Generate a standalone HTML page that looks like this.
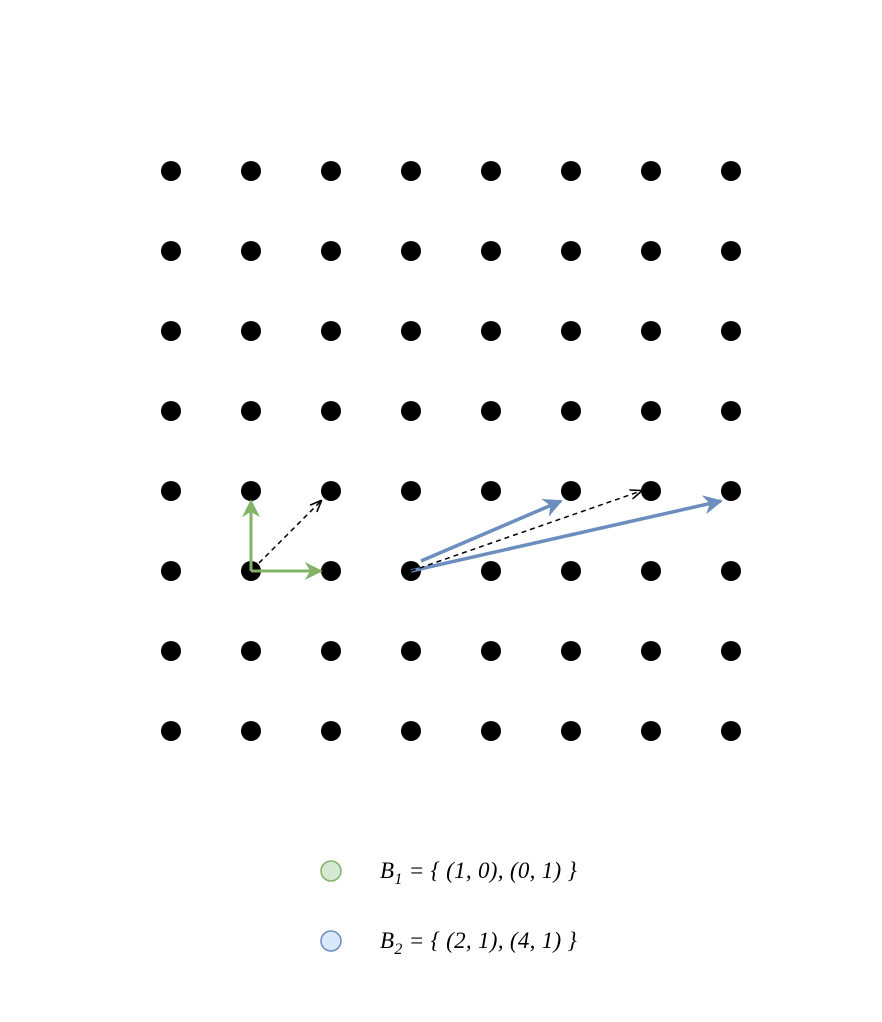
<!DOCTYPE html>
<html><head><meta charset="utf-8"><style>
body{margin:0;background:#fff}
svg{display:block}
text{font-family:"Liberation Serif",serif;font-style:italic;font-size:23px;letter-spacing:0.3px}
</style></head><body>
<svg id="c" width="882" height="1022">
<defs>
<marker id="ag" viewBox="0 0 10 10" refX="9" refY="5" markerWidth="6" markerHeight="6" orient="auto"><path d="M0,0 L10,5 L0,10 L3,5 z" fill="#82b366"/></marker>
<marker id="ab" viewBox="0 0 10 10" refX="9" refY="5" markerWidth="5.5" markerHeight="5.5" orient="auto"><path d="M0,0 L10,5 L0,10 L3,5 z" fill="#6c8ebf"/></marker>
<marker id="ak" viewBox="0 0 10 10" refX="9" refY="5" markerWidth="8" markerHeight="8" orient="auto"><path d="M0,1 L10,5 L0,9" fill="none" stroke="#000" stroke-width="1.3"/></marker>
</defs>
<g id="dots"></g>
<g id="vecs"></g>
<g>
<circle cx="331" cy="871" r="10" fill="#d5e8d4" stroke="#82b366" stroke-width="1.5"/>
<text x="380" y="878">B<tspan font-size="16" dy="6">1</tspan><tspan dy="-6"> = { (1, 0), (0, 1) }</tspan></text>
<circle cx="331" cy="941" r="10" fill="#dae8fc" stroke="#6c8ebf" stroke-width="1.5"/>
<text x="380" y="948">B<tspan font-size="16" dy="6">2</tspan><tspan dy="-6"> = { (2, 1), (4, 1) }</tspan></text>
</g>
</svg>
<script>
const cols=[0,1,2,3,4,5,6,7];
const rows=[0,1,2,3,4,5,6,7];
// vectors in lattice units
const vecStarts=[[1,2],[1,2],[1.1,2.1],[3.125,2.125],[3,2],[3,2]];
const vecEnds=[[1.875,2],[1,2.875],[1.875,2.875],[4.875,2.875],[6.875,2.875],[5.875,3]];
const vecStyles=["g","g","k","b","b","k"];
const ns="http://www.w3.org/2000/svg";
const X=i=>171+80*i, Y=j=>731-80*j;
const dots=document.getElementById('dots');
for(const i of cols)for(const j of rows){
 const c=document.createElementNS(ns,'circle');
 c.setAttribute('cx',X(i));c.setAttribute('cy',Y(j));c.setAttribute('r',10);c.setAttribute('fill','#000');
 
 
 dots.appendChild(c);
}
const vg=document.getElementById('vecs');
const st={g:['#82b366',3,'ag',''],b:['#6c8ebf',3.5,'ab',''],k:['#000',1.5,'ak','5 4']};
vecStarts.forEach((s,k)=>{
 const e=vecEnds[k],p=st[vecStyles[k]];
 const l=document.createElementNS(ns,'line');
 l.setAttribute('x1',X(s[0]));l.setAttribute('y1',Y(s[1]));l.setAttribute('x2',X(e[0]));l.setAttribute('y2',Y(e[1]));
 l.setAttribute('stroke',p[0]);l.setAttribute('stroke-width',p[1]);l.setAttribute('marker-end','url(#'+p[2]+')');
 if(p[3])l.setAttribute('stroke-dasharray',p[3]);
 
 
 vg.appendChild(l);
});
</script>
</body></html>
